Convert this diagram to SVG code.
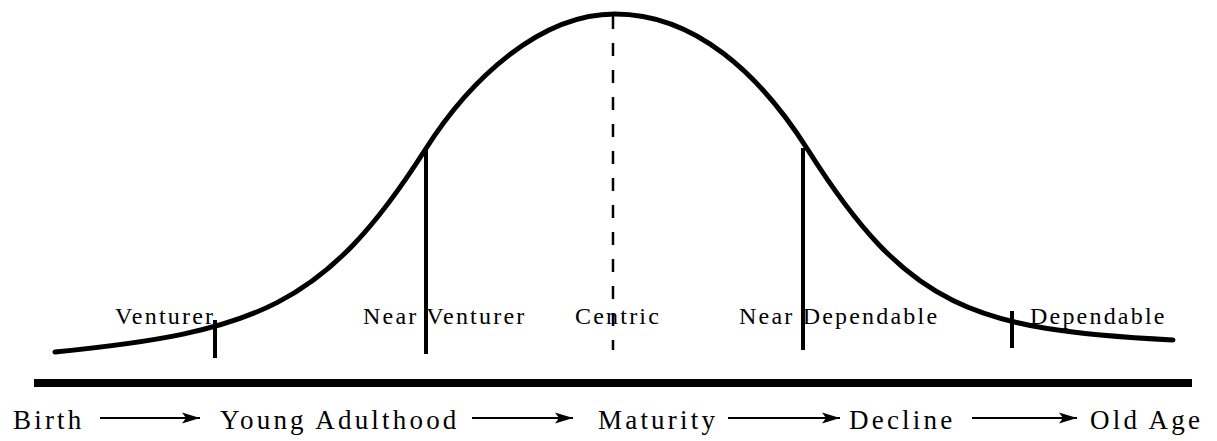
<svg xmlns="http://www.w3.org/2000/svg" width="1217" height="441" viewBox="0 0 1217 441">
  <style>
    .lbl { font-family: "Liberation Serif", "Times New Roman", serif; font-size: 24px; letter-spacing: 2.2px; fill: #000; }
    .stage { font-family: "Liberation Serif", "Times New Roman", serif; font-size: 27px; letter-spacing: 3.2px; fill: #000; }
    .curve { fill: none; stroke: #000; stroke-width: 5; stroke-linecap: round; }
    .tick { stroke: #000; stroke-width: 4; fill: none; }
    .dash { stroke: #000; stroke-width: 2.5; stroke-dasharray: 13 14; fill: none; }
    .axis { stroke: #000; stroke-width: 8; }
    .arrow { stroke: #000; stroke-width: 2; fill: none; marker-end: url(#ah); }
  </style>
  <defs>
    <marker id="ah" markerUnits="userSpaceOnUse" markerWidth="20" markerHeight="12" refX="18" refY="6" orient="auto">
      <path d="M0,0.5 L18,6 L0,11.5 L4,6 Z" fill="#000"/>
    </marker>
  </defs>
  <rect width="1217" height="441" fill="#fff"/>

  <g id="labels">
    <text class="lbl" x="115" y="324">Venturer</text>
    <text class="lbl" x="363" y="324">Near Venturer</text>
    <text class="lbl" x="575" y="324">Centric</text>
    <text class="lbl" x="739" y="324">Near Dependable</text>
    <text class="lbl" x="1030" y="324">Dependable</text>
  </g>

  <g id="bell-curve">
    <path class="curve" d="M55,352 C255,332 325,307 425,150 C470,79 540,14 615,14 C695,14 760,74 808,150 C908,308 973,330 1173,340"/>
  </g>

  <g id="markers">
    <line class="tick" x1="215" y1="320" x2="215" y2="358"/>
    <line class="tick" x1="426" y1="148" x2="426" y2="354"/>
    <line class="dash" x1="613" y1="16" x2="613" y2="350"/>
    <line class="tick" x1="803" y1="148" x2="803" y2="350"/>
    <line class="tick" x1="1012" y1="311" x2="1012" y2="348"/>
  </g>

  <g id="axis">
    <line class="axis" x1="34" y1="383" x2="1192" y2="383"/>
  </g>

  <g id="stage-birth"><text class="stage" x="13" y="429">Birth</text></g>
  <g id="stage-young"><text class="stage" x="220" y="429">Young Adulthood</text></g>
  <g id="stage-maturity"><text class="stage" x="598" y="429">Maturity</text></g>
  <g id="stage-decline"><text class="stage" x="849" y="429">Decline</text></g>
  <g id="stage-old"><text class="stage" x="1090" y="429">Old Age</text></g>

  <g id="connectors">
    <line class="arrow" x1="100" y1="418" x2="200" y2="418"/>
    <line class="arrow" x1="472" y1="418" x2="573" y2="418"/>
    <line class="arrow" x1="728" y1="418" x2="840" y2="418"/>
    <line class="arrow" x1="972" y1="418" x2="1077" y2="418"/>
  </g>
</svg>
